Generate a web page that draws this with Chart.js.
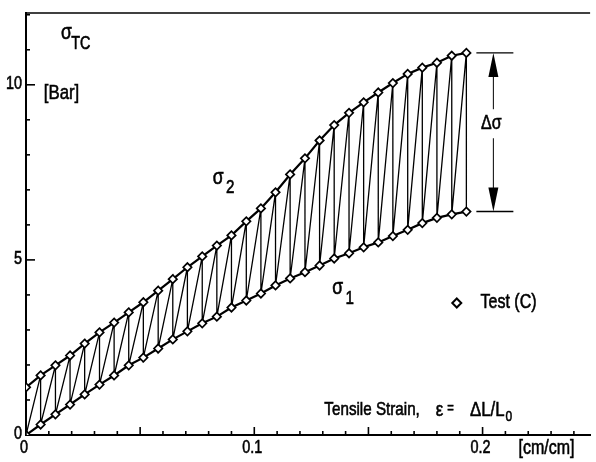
<!DOCTYPE html>
<html><head><meta charset="utf-8">
<script src="https://cdn.jsdelivr.net/npm/chart.js@4.4.1/dist/chart.umd.min.js"></script>
<style>html,body{margin:0;padding:0;background:#fff}#wrap{width:596px;height:462px}</style>
</head><body><div id="wrap"><canvas id="c" width="596" height="462"></canvas></div>
<script>
// strain epsilon [cm/cm]
const strain = [0, 0.0064, 0.0129, 0.0193, 0.0257, 0.0322, 0.0386, 0.045, 0.0514, 0.0579, 0.0643, 0.0707, 0.0772, 0.0836, 0.09, 0.0965, 0.1029, 0.1093, 0.1157, 0.1222, 0.1286, 0.135, 0.1415, 0.1479, 0.1543, 0.1607, 0.1672, 0.1736, 0.18, 0.1865, 0.1929];
// upper stress sigma2 [Bar]
const sigma2 = [1.36,1.70,1.99,2.27,2.61,2.93,3.21,3.50,3.79,4.12,4.45,4.79,5.10,5.41,5.70,6.10,6.47,6.93,7.44,7.90,8.41,8.85,9.20,9.50,9.78,10.05,10.31,10.49,10.63,10.83,10.91];
// lower stress sigma1 [Bar]
const sigma1 = [0,0.30,0.59,0.87,1.16,1.44,1.70,1.99,2.21,2.47,2.73,2.96,3.19,3.38,3.64,3.84,4.04,4.27,4.47,4.65,4.84,5.04,5.19,5.36,5.50,5.68,5.86,6.05,6.20,6.30,6.38];
const xTickLabels = [0, 0.1, 0.2];
const yTickLabels = [0, 5, 10];

const FONT = "'Liberation Sans',Arial,sans-serif";
const SX = 0.8; // horizontal condensing of lettering

const zig = [];
strain.forEach((x, i) => { zig.push({x, y: sigma2[i]}); zig.push({x, y: sigma1[i]}); });
const upper = strain.map((x, i) => ({x, y: sigma2[i]}));
const lower = strain.map((x, i) => ({x, y: sigma1[i]}));

const marker = {pointStyle: 'rectRot', pointRadius: 4.2, pointBackgroundColor: '#fff', pointBorderColor: '#000', pointBorderWidth: 1.7};

// draws condensed text; returns its drawn width
function txt(ctx, s, x, y, size, align) {
  ctx.save();
  ctx.font = size + 'px ' + FONT;
  ctx.textBaseline = 'middle';
  const w = ctx.measureText(s).width * SX;
  let x0 = x;
  if (align === 'center') x0 = x - w / 2;
  else if (align === 'right') x0 = x - w;
  ctx.translate(x0, y); ctx.scale(SX, 1);
  ctx.textAlign = 'left';
  ctx.fillStyle = '#000'; ctx.strokeStyle = '#000'; ctx.lineWidth = 0.6;
  ctx.fillText(s, 0, 0);
  ctx.strokeText(s, 0, 0);
  ctx.restore();
  return w;
}

const deco = {
  id: 'deco',
  afterDraw(chart) {
    const ctx = chart.ctx, xs = chart.scales.x, ys = chart.scales.y, a = chart.chartArea;
    const X = v => xs.getPixelForValue(v), Y = v => ys.getPixelForValue(v);
    ctx.save();
    ctx.strokeStyle = '#000'; ctx.fillStyle = '#000'; ctx.lineWidth = 1.6;
    // top border
    ctx.beginPath(); ctx.moveTo(a.left, a.top); ctx.lineTo(a.right, a.top); ctx.stroke();
    // inward ticks x
    for (let k = 0; k <= 24; k++) {
      const px = X(k / 100);
      if (px > a.right) break;
      const len = (k % 5 === 0) ? 8 : 4;
      ctx.beginPath(); ctx.moveTo(px, a.bottom); ctx.lineTo(px, a.bottom - len); ctx.stroke();
    }
    // inward ticks y
    for (let k = 1; k <= 12; k++) {
      const py = Y(k);
      if (py < a.top) break;
      const len = (k % 5 === 0) ? 9 : 4;
      ctx.beginPath(); ctx.moveTo(a.left, py); ctx.lineTo(a.left + len, py); ctx.stroke();
    }
    // tick labels
    xTickLabels.forEach(v => txt(ctx, v === 0 ? '0' : v.toFixed(1), X(v) - 2, a.bottom + 13, 18, 'center'));
    yTickLabels.forEach(v => txt(ctx, String(v), a.left - 4, Y(v) - 1, 18, 'right'));
    txt(ctx, '[cm/cm]', X(0.2) + 36, a.bottom + 13, 20, 'left');
    // axis titles and curve labels
    txt(ctx, 'σ', X(0.0153), Y(11.47), 22, 'left');
    txt(ctx, 'TC', X(0.0198), Y(11.15), 18, 'left');
    txt(ctx, '[Bar]', X(0.0078), Y(9.75), 21, 'left');
    txt(ctx, 'σ', X(0.0818), Y(7.35), 22, 'left');
    txt(ctx, '2', X(0.0876), Y(7.06), 19, 'left');
    txt(ctx, 'σ', X(0.1342), Y(4.2), 22, 'left');
    txt(ctx, '1', X(0.1400), Y(3.88), 19, 'left');
    // strain label
    const ly0 = Y(0.72);
    let cx = X(0.1307);
    txt(ctx, 'Tensile Strain,', cx, ly0, 19, 'left');
    cx = X(0.1795);
    cx += txt(ctx, 'ε', cx, ly0, 21, 'left') + 4;
    txt(ctx, '=', cx, ly0 - 1, 14, 'left');
    cx = X(0.1945);
    cx += txt(ctx, 'ΔL/L', cx, ly0, 21, 'left') + 1;
    txt(ctx, '0', cx, ly0 + 7, 15, 'left');
    // legend
    txt(ctx, 'Test (C)', X(0.1991), Y(3.77), 20, 'left');
    const lx = X(0.1887), lyy = Y(3.77);
    ctx.beginPath(); ctx.moveTo(lx, lyy - 4.5); ctx.lineTo(lx + 4.5, lyy); ctx.lineTo(lx, lyy + 4.5); ctx.lineTo(lx - 4.5, lyy); ctx.closePath();
    ctx.fillStyle = '#fff'; ctx.fill(); ctx.lineWidth = 2; ctx.stroke(); ctx.fillStyle = '#000';
    // delta sigma annotation
    const n = strain.length - 1;
    const xe = X(strain[n]), yt = Y(sigma2[n]), yb = Y(sigma1[n]);
    const ax = xe + 27;
    ctx.lineWidth = 1.4;
    ctx.beginPath(); ctx.moveTo(xe + 10, yt); ctx.lineTo(xe + 47, yt); ctx.moveTo(xe + 10, yb); ctx.lineTo(xe + 47, yb); ctx.stroke();
    const ym = (yt + yb) / 2 - 9;
    ctx.lineWidth = 1;
    ctx.beginPath(); ctx.moveTo(ax, yt + 20); ctx.lineTo(ax, ym - 14); ctx.moveTo(ax, ym + 15); ctx.lineTo(ax, yb - 20); ctx.stroke();
    ctx.beginPath(); ctx.moveTo(ax, yt); ctx.lineTo(ax - 5, yt + 24); ctx.lineTo(ax + 5, yt + 24); ctx.closePath(); ctx.fill();
    ctx.beginPath(); ctx.moveTo(ax, yb); ctx.lineTo(ax - 5, yb - 24); ctx.lineTo(ax + 5, yb - 24); ctx.closePath(); ctx.fill();
    txt(ctx, 'Δσ', ax - 2, ym, 20, 'center');
    ctx.restore();
  }
};

new Chart(document.getElementById('c'), {
  type: 'scatter',
  data: { datasets: [
    { data: zig, showLine: true, borderColor: '#000', borderWidth: 1.3, pointRadius: 0, order: 2 },
    Object.assign({ data: upper, showLine: true, borderColor: '#000', borderWidth: 2.2, order: 1 }, marker),
    Object.assign({ data: lower, showLine: true, borderColor: '#000', borderWidth: 2.2, order: 1 }, marker)
  ]},
  options: {
    responsive: false, animation: false, devicePixelRatio: 1,
    layout: { padding: { top: 13, right: 4, left: 0, bottom: 0 } },
    plugins: { legend: { display: false }, tooltip: { enabled: false } },
    scales: {
      x: {
        type: 'linear', min: 0, max: 0.2471,
        grid: { display: false, drawTicks: false },
        border: { display: true, color: '#000', width: 2 },
        afterBuildTicks: s => { s.ticks = xTickLabels.map(v => ({value: v})); },
        afterFit: s => { s.height = 27; },
        ticks: { display: false }
      },
      y: {
        type: 'linear', min: 0, max: 12.05,
        grid: { display: false, drawTicks: false },
        border: { display: true, color: '#000', width: 2 },
        afterBuildTicks: s => { s.ticks = yTickLabels.map(v => ({value: v})); },
        afterFit: s => { s.width = 26; },
        ticks: { display: false }
      }
    }
  },
  plugins: [deco]
});
</script></body></html>
